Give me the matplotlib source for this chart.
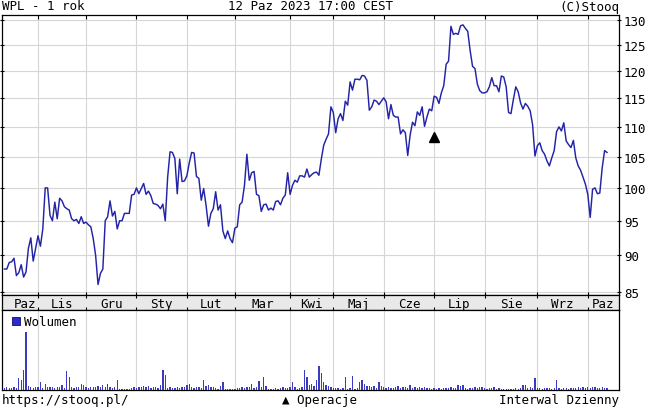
"""Stooq-style 1-year chart for WPL: price line (log scale), month band, volume bars."""

import matplotlib
matplotlib.use("Agg")
import matplotlib.pyplot as plt
from matplotlib.ticker import FixedLocator, FixedFormatter, NullLocator

TITLE_LEFT = "WPL - 1 rok"
TITLE_MID = "12 Paz 2023 17:00 CEST"
TITLE_RIGHT = "(C)Stooq"
FOOT_LEFT = "https://stooq.pl/"
FOOT_MID = "\u25b2 Operacje"
FOOT_RIGHT = "Interwal Dzienny"
VOL_LABEL = "Wolumen"

MONTHS = ["Paz", "Lis", "Gru", "Sty", "Lut", "Mar", "Kwi", "Maj", "Cze",
          "Lip", "Sie", "Wrz", "Paz"]
# session number of the first trading day of each month (Lis .. Paz)
MONTH_STARTS = [15, 35, 56, 77, 97, 120, 138, 159, 180, 201, 223, 244]
FIRST_SESSION_SHOWN = 4
LAST_SLOT = 257
PRICE_TICKS = [85, 90, 95, 100, 105, 110, 115, 120, 125, 130]

# close per session, sessions 1..252 (12.10.2022 - 12.10.2023)
CLOSE = [
    88.1, 88.1, 89.0, 89.1, 89.6, 87.2, 87.6, 88.7, 87.0, 87.7,
    91.0, 92.5, 89.2, 91.0, 92.8, 91.3, 93.8, 100.0, 100.0, 95.8,
    95.0, 97.8, 95.3, 98.4, 98.0, 97.1, 96.8, 96.6, 95.3, 95.0,
    95.2, 94.6, 95.6, 94.6, 94.8, 94.4, 94.1, 92.4, 90.0, 86.0,
    87.5, 88.1, 95.0, 95.6, 98.0, 95.7, 96.4, 93.8, 95.0, 95.0,
    96.1, 96.1, 96.1, 98.9, 99.0, 100.0, 99.1, 99.9, 100.7, 99.0,
    99.5, 98.8, 97.6, 97.5, 97.3, 96.8, 97.5, 95.0, 101.7, 105.8,
    105.7, 104.7, 99.1, 104.6, 101.0, 101.1, 101.9, 104.0, 105.7, 105.6,
    101.8, 101.5, 98.1, 99.9, 97.3, 94.2, 96.1, 96.8, 99.4, 96.6,
    97.4, 93.5, 92.4, 93.5, 92.4, 91.8, 93.9, 94.1, 97.4, 97.8,
    100.4, 105.4, 101.2, 102.4, 102.6, 99.0, 98.8, 96.4, 97.4, 97.5,
    96.6, 96.9, 96.6, 97.9, 98.0, 97.4, 98.4, 98.9, 102.4, 99.0,
    100.4, 101.2, 100.9, 101.9, 101.9, 101.7, 103.0, 101.7, 102.1, 102.4,
    102.5, 102.0, 104.6, 106.9, 107.9, 108.8, 113.5, 112.5, 109.0, 111.4,
    112.3, 111.1, 114.5, 113.8, 118.0, 116.5, 118.5, 118.5, 118.4, 119.2,
    119.1, 118.3, 112.9, 113.5, 114.7, 114.5, 113.9, 114.5, 115.1, 114.4,
    111.4, 113.9, 112.0, 111.7, 111.7, 108.8, 109.5, 109.0, 105.2, 108.6,
    110.8, 110.2, 112.6, 112.0, 113.5, 110.1, 111.7, 113.1, 112.8, 115.4,
    115.2, 114.1, 116.0, 117.3, 121.3, 121.9, 128.7, 127.1, 127.3, 127.1,
    128.8, 129.0, 128.3, 127.7, 123.9, 120.9, 120.5, 117.6, 116.4, 116.0,
    116.0, 116.2, 117.1, 118.8, 117.3, 117.3, 116.2, 119.1, 118.9, 117.1,
    112.5, 112.3, 114.8, 117.1, 116.2, 114.2, 113.1, 114.1, 113.6, 112.8,
    110.4, 105.1, 106.8, 107.3, 106.0, 105.4, 104.3, 103.5, 104.8, 106.0,
    109.2, 110.0, 109.3, 110.7, 107.6, 107.0, 106.5, 107.7, 104.8, 103.5,
    102.8, 101.7, 100.6, 99.0, 95.5, 99.8, 100.0, 99.1, 99.2, 103.2,
    106.0, 105.7,
]

# volume per session (relative units), sessions 1..252
VOLUME = [
    4, 5, 4, 3, 5, 3, 21, 18, 35, 100,
    7, 5, 4, 6, 5, 13, 3, 10, 6, 5,
    5, 4, 6, 5, 8, 4, 33, 23, 5, 4,
    6, 5, 10, 9, 5, 4, 5, 6, 5, 7,
    6, 8, 5, 10, 6, 4, 5, 18, 2, 1,
    1, 2, 1, 3, 5, 4, 6, 5, 7, 5,
    7, 4, 5, 6, 4, 8, 35, 26, 4, 5,
    4, 3, 5, 4, 5, 6, 8, 10, 5, 4,
    6, 5, 4, 18, 7, 8, 6, 5, 3, 2,
    7, 13, 2, 1, 1, 2, 1, 3, 4, 5,
    4, 6, 5, 10, 4, 6, 16, 5, 23, 7,
    2, 1, 2, 4, 1, 4, 5, 3, 4, 5,
    13, 5, 2, 4, 6, 34, 23, 9, 10, 7,
    18, 42, 29, 14, 9, 7, 5, 4, 3, 4,
    2, 4, 23, 2, 3, 25, 2, 3, 14, 17,
    10, 7, 7, 5, 7, 3, 13, 7, 6, 4,
    5, 3, 4, 5, 7, 4, 6, 5, 3, 8,
    4, 5, 3, 5, 4, 6, 3, 4, 2, 3,
    2, 3, 2, 3, 4, 3, 5, 4, 3, 9,
    7, 9, 4, 2, 3, 4, 6, 3, 5, 6,
    3, 2, 4, 3, 5, 2, 3, 2, 1, 2,
    1, 2, 1, 3, 2, 3, 8, 9, 4, 6,
    3, 20, 4, 3, 2, 3, 4, 3, 2, 3,
    18, 3, 2, 3, 4, 2, 3, 3, 4, 5,
    3, 6, 4, 6, 3, 5, 6, 4, 3, 5,
    4, 3,
]

# "Operacje" marker (session, price level)
OPER_SESSION = [180]
OPER_LEVEL = [108.3]

LINE = "#2323a8"
BAR = "#3a3ac2"
GRID = "#d6d6d6"
BAND = "#e9e9e9"
FONT = "DejaVu Sans Mono"

W, H = 649, 410


def frac(x0, y0, x1, y1):
    """pixel box (top-left origin) -> figure fraction rect"""
    return [x0 / W, 1 - y1 / H, (x1 - x0) / W, (y1 - y0) / H]


def main():
    plt.rcParams["font.family"] = FONT
    plt.rcParams["font.size"] = 9
    fig = plt.figure(figsize=(W / 100, H / 100), dpi=100)

    sessions = list(range(1, len(CLOSE) + 1))
    xlim = (0, LAST_SLOT)

    # ---- price panel
    ax = fig.add_axes(frac(2, 16, 619, 296))
    ax.plot(sessions, CLOSE, color=LINE, lw=1.05, zorder=3)
    ax.plot(OPER_SESSION, OPER_LEVEL, "^", color="black", ms=6.5, zorder=4)
    ax.set_yscale("log")
    ax.set_ylim(84.6, 131.0)
    ax.set_xlim(*xlim)
    ax.yaxis.set_major_locator(FixedLocator(PRICE_TICKS))
    ax.yaxis.set_major_formatter(FixedFormatter([str(t) for t in PRICE_TICKS]))
    ax.yaxis.set_minor_locator(NullLocator())
    ax.set_xticks(MONTH_STARTS)
    ax.xaxis.set_minor_locator(NullLocator())
    ax.grid(True, color=GRID, lw=0.8, zorder=0)
    ax.tick_params(axis="y", which="both", left=True, right=True,
                   labelleft=False, labelright=True, direction="out",
                   length=3, width=0.8, pad=2, labelsize=9)
    ax.tick_params(axis="y", which="major", left=True, direction="inout")
    ax.tick_params(axis="x", bottom=False, top=True, direction="in",
                   length=3, width=0.8, labelbottom=False)

    # ---- month band
    band = fig.add_axes(frac(2, 296, 619, 311), facecolor=BAND)
    band.set_xlim(*xlim)
    band.set_ylim(0, 1)
    band.set_yticks([])
    band.set_xticks(MONTH_STARTS)
    band.tick_params(axis="x", top=True, bottom=True, direction="inout",
                     length=5, width=0.8, labelbottom=False)
    bounds = [FIRST_SESSION_SHOWN] + MONTH_STARTS + [LAST_SLOT]
    for name, a, b in zip(MONTHS, bounds[:-1], bounds[1:]):
        band.text((a + b) / 2, 0.45, name, ha="center", va="center", fontsize=9)

    # ---- volume panel
    vax = fig.add_axes(frac(2, 311, 619, 391))
    vax.bar(sessions, VOLUME, width=0.55, color=BAR, lw=0, zorder=3)
    vax.set_xlim(*xlim)
    vax.set_ylim(0, 138)
    vax.set_yticks([])
    vax.set_xticks(MONTH_STARTS)
    vax.tick_params(axis="x", bottom=False, labelbottom=False)
    vax.grid(True, axis="x", color=GRID, lw=0.8, zorder=0)
    vax.plot([0.022], [0.86], "s", transform=vax.transAxes, ms=6,
             color="#2a2ad0", mec="#101060", mew=0.6)
    vax.text(0.036, 0.86, VOL_LABEL, transform=vax.transAxes,
             ha="left", va="center", fontsize=9)

    for a in (ax, band, vax):
        for s in a.spines.values():
            s.set_linewidth(0.9)
            s.set_color("black")

    # ---- header / footer texts
    fig.text(2 / W, 1 - 7 / H, TITLE_LEFT, ha="left", va="center", fontsize=9)
    fig.text(310 / W, 1 - 7 / H, TITLE_MID, ha="center", va="center", fontsize=9)
    fig.text(619 / W, 1 - 7 / H, TITLE_RIGHT, ha="right", va="center", fontsize=9)
    fig.text(2 / W, 1 - 401 / H, FOOT_LEFT, ha="left", va="center", fontsize=9)
    fig.text(319 / W, 1 - 401 / H, FOOT_MID, ha="center", va="center", fontsize=9)
    fig.text(619 / W, 1 - 401 / H, FOOT_RIGHT, ha="right", va="center", fontsize=9)

    fig.savefig("out.png", dpi=100)


if __name__ == "__main__":
    main()
